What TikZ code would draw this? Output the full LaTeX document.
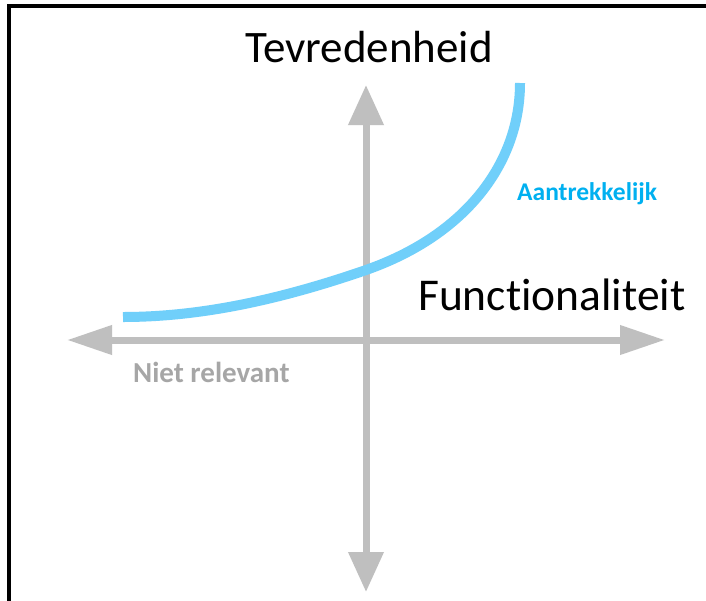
\documentclass[tikz,border=0pt]{standalone}
\usepackage{fontspec}
\setmainfont{Carlito}[RawFeature={-liga;-dlig}]
\usetikzlibrary{arrows.meta}
\definecolor{axisgray}{RGB}{191,191,191}
\definecolor{labelgray}{RGB}{166,166,166}
\definecolor{curveblue}{RGB}{112,207,250}
\definecolor{textblue}{RGB}{0,176,240}
\tikzset{
  axis/.style={draw=axisgray, line width=7pt},
  bigtext/.style={inner sep=0pt, text=black},
  smalllabel/.style={inner sep=0pt},
}
\begin{document}
\begin{tikzpicture}[x=1pt,y=-1pt]
\useasboundingbox (0,0) rectangle (706,600);
\fill[white] (0,0) rectangle (706,600);
\begin{scope}
\clip (0,0) rectangle (706,600);
\draw[line width=4pt] (8.5,5.7) rectangle (730,630);
\end{scope}
% axes
\coordinate (ytop) at (366,85);
\coordinate (ybot) at (366,592);
\coordinate (xleft) at (67,340);
\coordinate (xright) at (665,340);
\draw[axis, {Triangle[length=40pt,width=34pt,fill=axisgray]}-{Triangle[length=40pt,width=34pt,fill=axisgray]}] (ybot) -- (ytop);
\draw[axis, {Triangle[length=45pt,width=28pt,fill=axisgray]}-{Triangle[length=45pt,width=28pt,fill=axisgray]}] (xleft) -- (xright);
% curve
\coordinate (cstart) at (123,317);
\coordinate (cmid) at (366,270);
\coordinate (cend) at (520,83);
\draw[curveblue, line width=10pt] (cstart) .. controls (204,317) and (285,298) .. (cmid)
  .. controls (466,235) and (520,163) .. (cend);
% labels
\node[bigtext, font=\fontsize{45}{50}\selectfont, anchor=base] (tev) at (369,62.7) {Tevredenheid};
\node[bigtext, font=\fontsize{45.5}{50}\selectfont, anchor=base west] (fun) at (418,310) {Functionaliteit};
\node[smalllabel, font=\bfseries\fontsize{25.5}{30}\selectfont, text=textblue, anchor=base west] (aan) at (517,200) {Aantrekkelijk};
\node[smalllabel, font=\bfseries\fontsize{29}{34}\selectfont, text=labelgray, anchor=base west] (niet) at (133,382) {Niet relevant};
\end{tikzpicture}
\end{document}
